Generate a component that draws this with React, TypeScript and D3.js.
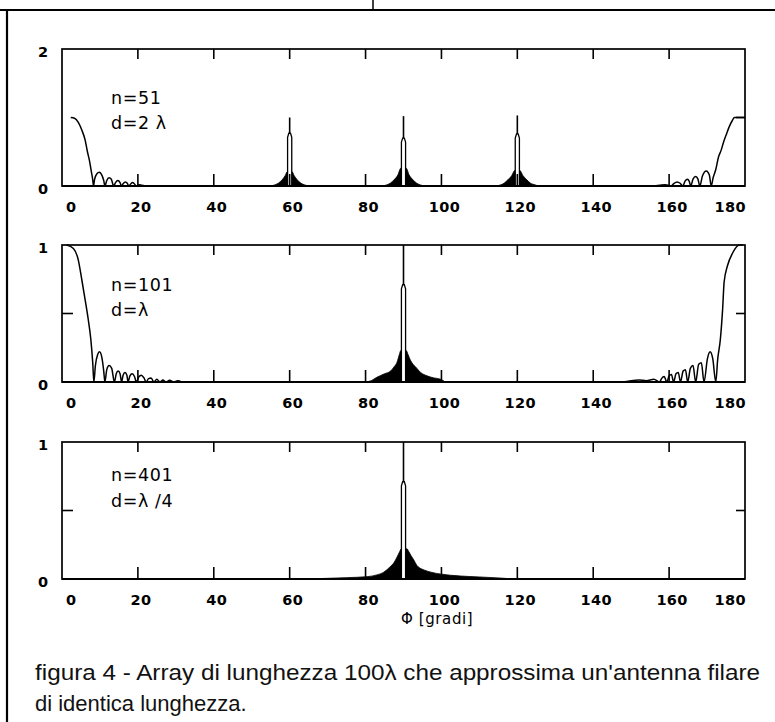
import React from 'react';
import * as d3 from 'd3';

type Pt = [number, number];

// ---------- data ----------
const X_TICKS = [0, 20, 40, 60, 80, 100, 120, 140, 160, 180];
const X_TICK_LABELS = X_TICKS.map(String);

// Panel 1: n=51, d=2λ (y from 0 to 2)
const P1_TEXT = ['n=51', 'd=2 λ'];
const P1_Y_LABELS = ['2', '0'];
const P1_LEFT: Pt[] = [
  [2.3, 1.0], [3.3, 0.99], [4.3, 0.93], [5.2, 0.82], [6.1, 0.67], [6.7, 0.5], [7.2, 0.38], [7.7, 0.22], [8.1, 0.09], [8.3, 0],
  [8.6, 0.1], [9.2, 0.18], [9.8, 0.2], [10.4, 0.17], [11.0, 0.08], [11.3, 0],
  [11.8, 0.08], [12.4, 0.12], [13.0, 0.1], [13.6, 0],
  [14.1, 0.05], [14.7, 0.08], [15.3, 0.05], [15.7, 0],
  [16.2, 0.04], [16.7, 0.06], [17.2, 0.04], [17.6, 0],
  [18.1, 0.03], [18.6, 0.05], [19.1, 0.03], [19.6, 0],
  [20.3, 0.02], [21, 0.01], [22, 0],
];
const P1_RIGHT: Pt[] = [
  [156, 0], [157.5, 0.01], [159, 0.02], [160.5, 0],
  [161.3, 0.04], [162.1, 0.06], [162.9, 0.04], [163.6, 0],
  [164.2, 0.07], [164.8, 0.1], [165.3, 0.07], [165.7, 0],
  [166.3, 0.1], [167, 0.14], [167.6, 0.1], [168.1, 0],
  [168.8, 0.15], [169.8, 0.22], [170.6, 0.16], [171.1, 0],
  [171.6, 0.12], [172.3, 0.24], [173, 0.42], [173.7, 0.52], [174.4, 0.65], [175, 0.74], [175.8, 0.86], [176.7, 0.96], [177.2, 1.0], [180, 1.0],
];
const P1_FILL_60: Pt[] = [
  [55, 0], [56, 0.015], [57, 0.04], [58, 0.09], [58.8, 0.15], [59.4, 0.21],
  [60.6, 0.21], [61.2, 0.15], [62, 0.09], [63, 0.04], [64, 0.015], [65, 0],
];
const P1_FILL_90: Pt[] = [
  [84.5, 0], [85.5, 0.015], [86.5, 0.04], [87.5, 0.09], [88.5, 0.16], [89.3, 0.26],
  [90.7, 0.26], [91.5, 0.16], [92.5, 0.09], [93.5, 0.04], [94.5, 0.015], [95.5, 0],
];
const P1_FILL_120: Pt[] = [
  [114.5, 0], [115.5, 0.015], [116.5, 0.04], [117.5, 0.09], [118.5, 0.15], [119.4, 0.23],
  [120.6, 0.23], [121.5, 0.15], [122.5, 0.09], [123.5, 0.04], [124.8, 0.015], [125.5, 0],
];
const P1_PEAK_AT = [60, 90, 120];
const P1_LOBE_TOP = [0.77, 0.7, 0.76];
const P1_SPIKE_TOP = [1.0, 1.02, 1.03];

// Panel 2: n=101, d=λ (y from 0 to 1)
const P2_TEXT = ['n=101', 'd=λ'];
const P2_Y_LABELS = ['1', '0'];
const P2_LEFT: Pt[] = [
  [1.2, 1.0], [3.0, 0.975], [4.3, 0.89], [5.2, 0.75], [6.1, 0.6], [6.9, 0.46], [7.6, 0.31], [8.1, 0.14], [8.4, 0],
  [8.8, 0.12], [9.4, 0.2], [9.9, 0.22], [10.5, 0.18], [11.0, 0.08], [11.3, 0],
  [11.8, 0.09], [12.4, 0.12], [13.1, 0.1], [13.8, 0],
  [14.3, 0.06], [14.8, 0.08], [15.3, 0.06], [15.7, 0],
  [16.1, 0.05], [16.6, 0.07], [17.1, 0.05], [17.4, 0],
  [17.9, 0.045], [18.5, 0.06], [19.1, 0.04], [19.6, 0],
  [20.2, 0.035], [20.9, 0.05], [21.6, 0.03], [22.2, 0],
  [22.8, 0.025], [23.5, 0.03], [24.2, 0], [25, 0.02], [25.8, 0],
  [26.6, 0.015], [27.4, 0], [28.4, 0.012], [29.4, 0], [30.5, 0.01], [31.5, 0],
];
const P2_RIGHT: Pt[] = [
  [148, 0], [150, 0.01], [152, 0.015], [154, 0.01], [156, 0.02], [157.5, 0],
  [158, 0.025], [158.7, 0.04], [159.4, 0],
  [160, 0.045], [160.6, 0.055], [161.2, 0],
  [161.8, 0.06], [162.4, 0.07], [163, 0],
  [163.7, 0.08], [164.3, 0.09], [164.9, 0],
  [165.6, 0.1], [166.3, 0.12], [167, 0],
  [167.8, 0.13], [168.5, 0.14], [169.2, 0],
  [170.1, 0.17], [170.8, 0.22], [171.5, 0.17], [172.3, 0],
  [172.8, 0.165], [173.5, 0.31], [174.1, 0.53], [174.5, 0.73], [175.4, 0.85], [176.7, 0.94], [178.5, 1.0], [179.4, 1.0],
];
const P2_FILL_90: Pt[] = [
  [80, 0], [81.5, 0.01], [83, 0.035], [85, 0.06], [86.6, 0.08], [87.5, 0.11], [88.3, 0.145], [88.9, 0.2], [89.3, 0.23],
  [90.7, 0.23], [91.2, 0.2], [91.8, 0.16], [92.5, 0.13], [93.2, 0.11], [94.5, 0.07], [96.2, 0.045], [98, 0.03], [99.8, 0.02], [101, 0],
];
const P2_PEAK_AT = [90];
const P2_LOBE_TOP = [0.71];
const P2_SPIKE_TOP = [1.0];

// Panel 3: n=401, d=λ/4 (y from 0 to 1)
const P3_TEXT = ['n=401', 'd=λ /4'];
const P3_Y_LABELS = ['1', '0'];
const P3_FILL_90: Pt[] = [
  [64, 0], [70, 0.005], [75, 0.01], [80.4, 0.017], [83, 0.03], [84.8, 0.05], [86.5, 0.09], [87.5, 0.12], [88.3, 0.16], [89, 0.2], [89.4, 0.22],
  [90.9, 0.22], [91.4, 0.2], [92, 0.17], [92.7, 0.14], [93.5, 0.1], [94.3, 0.08], [95.4, 0.066], [97.5, 0.048], [99.8, 0.036],
  [105, 0.022], [110, 0.015], [115, 0.008], [119, 0],
];
const P3_PEAK_AT = [90];
const P3_LOBE_TOP = [0.71];
const P3_SPIKE_TOP = [1.0];

const X_AXIS_TITLE = 'Φ [gradi]';
const CAPTION = [
  "figura 4 - Array di lunghezza 100λ che approssima un'antenna filare",
  'di identica lunghezza.',
];

// ---------- layout ----------
const W = 775;
const H = 722;
const X0 = 62;
const X1 = 745;
const TICK_FONT = "'DejaVu Sans', sans-serif";

interface PanelCfg {
  top: number;
  bottom: number;
  yMax: number;
  yLabels: string[];
  midTick: number;
  midTickLeft: boolean;
  text: string[];
  textY: number[];
  curves: Pt[][];
  fills: Pt[][];
  peaks: number[];
  lobeTops: number[];
  spikeTops: number[];
}

const panels: PanelCfg[] = [
  {
    top: 49, bottom: 186, yMax: 2, yLabels: P1_Y_LABELS, midTick: 1, midTickLeft: false,
    text: P1_TEXT, textY: [104, 129], curves: [P1_LEFT, P1_RIGHT],
    fills: [P1_FILL_60, P1_FILL_90, P1_FILL_120], peaks: P1_PEAK_AT, lobeTops: P1_LOBE_TOP, spikeTops: P1_SPIKE_TOP,
  },
  {
    top: 245, bottom: 382, yMax: 1, yLabels: P2_Y_LABELS, midTick: 0.5, midTickLeft: true,
    text: P2_TEXT, textY: [291, 316], curves: [P2_LEFT, P2_RIGHT],
    fills: [P2_FILL_90], peaks: P2_PEAK_AT, lobeTops: P2_LOBE_TOP, spikeTops: P2_SPIKE_TOP,
  },
  {
    top: 442, bottom: 579, yMax: 1, yLabels: P3_Y_LABELS, midTick: 0.5, midTickLeft: true,
    text: P3_TEXT, textY: [481, 507], curves: [],
    fills: [P3_FILL_90], peaks: P3_PEAK_AT, lobeTops: P3_LOBE_TOP, spikeTops: P3_SPIKE_TOP,
  },
];

const x = d3.scaleLinear().domain([0, 180]).range([X0, X1]);

function Panel({ cfg, idx }: { cfg: PanelCfg; idx: number }) {
  const y = d3.scaleLinear().domain([0, cfg.yMax]).range([cfg.bottom, cfg.top]);
  const line = d3.line<Pt>().x((d) => x(d[0])).y((d) => y(d[1])).curve(d3.curveMonotoneX);
  const area = d3
    .area<Pt>()
    .x((d) => x(d[0]))
    .y0(y(0))
    .y1((d) => y(d[1]))
    .curve(d3.curveMonotoneX);
  const lobeLine = d3.line<Pt>().x((d) => x(d[0])).y((d) => y(d[1]));
  const hw = 0.55;
  const clipId = `clip-${idx}`;
  const labelY = cfg.bottom + 26;
  return (
    <g>
      <defs>
        <clipPath id={clipId}>
          <rect x={X0} y={cfg.top - 2} width={X1 - X0} height={cfg.bottom - cfg.top + 2} />
        </clipPath>
      </defs>
      <g clipPath={`url(#${clipId})`}>
        {cfg.fills.map((f, i) => (
          <path key={`f${i}`} d={area(f) || ''} fill="#000" stroke="#000" strokeWidth={0.8} />
        ))}
        {cfg.peaks.map((c, i) => {
          const top = cfg.lobeTops[i];
          const pts: Pt[] = [
            [c - hw, 0],
            [c - hw, top - 0.03 * cfg.yMax],
            [c - hw * 0.4, top],
            [c + hw * 0.4, top],
            [c + hw, top - 0.03 * cfg.yMax],
            [c + hw, 0],
          ];
          return (
            <g key={`p${i}`}>
              <path d={lobeLine(pts) || ''} fill="#fff" stroke="#000" strokeWidth={1.3} />
              <line x1={x(c)} x2={x(c)} y1={y(top)} y2={y(cfg.spikeTops[i])} stroke="#000" strokeWidth={1.6} />
            </g>
          );
        })}
        {cfg.curves.map((c, i) => (
          <path key={`c${i}`} d={line(c) || ''} fill="none" stroke="#000" strokeWidth={1.5} strokeLinejoin="round" />
        ))}
      </g>
      {/* frame */}
      <rect x={X0} y={cfg.top} width={X1 - X0} height={cfg.bottom - cfg.top} fill="none" stroke="#000" strokeWidth={1.7} />
      <line x1={X0} x2={X1} y1={cfg.bottom} y2={cfg.bottom} stroke="#000" strokeWidth={2.2} />
      {/* x ticks */}
      {X_TICKS.filter((t) => t > 0 && t < 180).map((t) => (
        <g key={`t${t}`}>
          <line x1={x(t)} x2={x(t)} y1={cfg.top} y2={cfg.top + 10} stroke="#000" strokeWidth={1.6} />
          <line x1={x(t)} x2={x(t)} y1={cfg.bottom} y2={cfg.bottom - 12} stroke="#000" strokeWidth={1.6} />
        </g>
      ))}
      {/* y mid tick */}
      {cfg.midTickLeft && (
        <line x1={X0} x2={X0 + 11} y1={y(cfg.midTick)} y2={y(cfg.midTick)} stroke="#000" strokeWidth={1.6} />
      )}
      <line x1={X1 - 9} x2={X1} y1={y(cfg.midTick)} y2={y(cfg.midTick)} stroke="#000" strokeWidth={1.6} />
      {/* x tick labels */}
      {X_TICKS.map((t, i) => {
        let anchor: 'start' | 'middle' | 'end' = 'middle';
        let xx = x(t) + 3;
        if (i === 0) {
          anchor = 'start';
          xx = x(t) + 4;
        } else if (i === X_TICKS.length - 1) {
          anchor = 'end';
          xx = x(t) + 1;
        }
        return (
          <text key={`l${t}`} x={xx} y={labelY} textAnchor={anchor} fontFamily={TICK_FONT} fontWeight="bold" fontSize={14.5} letterSpacing={0.4}>
            {X_TICK_LABELS[i]}
          </text>
        );
      })}
      {/* y labels */}
      <text x={43} y={cfg.top + 8} textAnchor="middle" fontFamily={TICK_FONT} fontWeight="bold" fontSize={14.5}>
        {cfg.yLabels[0]}
      </text>
      <text x={43} y={cfg.bottom + 8} textAnchor="middle" fontFamily={TICK_FONT} fontWeight="bold" fontSize={14.5}>
        {cfg.yLabels[1]}
      </text>
      {/* annotation */}
      {cfg.text.map((s, i) => (
        <text key={`a${i}`} x={111} y={cfg.textY[i]} fontFamily={TICK_FONT} fontSize={17.5} letterSpacing={0.6}>
          {s}
        </text>
      ))}
    </g>
  );
}

export default function App() {
  return (
    <svg width={W} height={H} viewBox={`0 0 ${W} ${H}`} style={{ position: 'absolute', left: 0, top: 0, background: '#fff' }}>
      <rect x={0} y={0} width={W} height={H} fill="#fff" />
      {/* page frame */}
      <line x1={0} x2={W} y1={10} y2={10} stroke="#000" strokeWidth={2} />
      <line x1={373} x2={373} y1={0} y2={10} stroke="#000" strokeWidth={1.5} />
      <line x1={7} x2={7} y1={10} y2={H} stroke="#000" strokeWidth={2.2} />
      {panels.map((p, i) => (
        <Panel key={i} cfg={p} idx={i} />
      ))}
      <text x={401} y={624} fontFamily={TICK_FONT} fontSize={15} letterSpacing={0.6}>
        {X_AXIS_TITLE}
      </text>
      <text x={35} y={680} fontFamily="'Liberation Sans', Arial, sans-serif" fontSize={22} fill="#111" textLength={725} lengthAdjust="spacingAndGlyphs">
        {CAPTION[0]}
      </text>
      <text x={35} y={711} fontFamily="'Liberation Sans', Arial, sans-serif" fontSize={22} fill="#111">
        {CAPTION[1]}
      </text>
    </svg>
  );
}
